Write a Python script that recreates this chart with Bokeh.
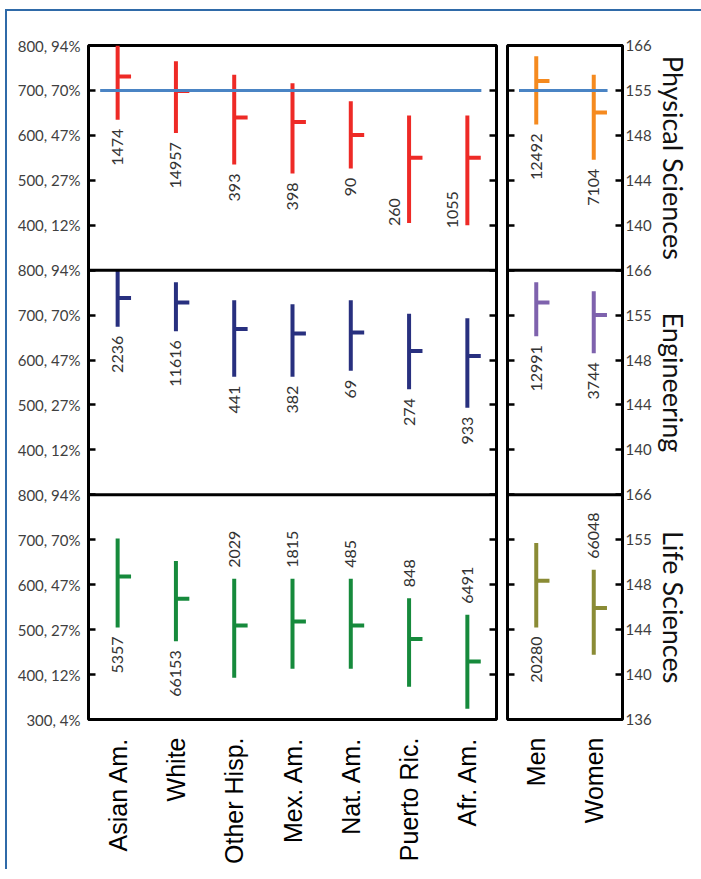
import numpy as np
from bokeh.plotting import figure
from bokeh.models import ColumnDataSource, Range1d, FactorRange, FixedTicker, LinearAxis, Span
from bokeh.transform import dodge
from bokeh.layouts import row
from bokeh.embed import file_html
from bokeh.resources import INLINE
from bokeh.core.properties import value

# ---------------- data ----------------
groups = ["Asian Am.", "White", "Other Hisp.", "Mex. Am.", "Nat. Am.", "Puerto Ric.", "Afr. Am."]
genders = ["Men", "Women"]
fields = ["Physical Sciences", "Engineering", "Life Sciences"]

phys_low = [635, 605, 535, 515, 526, 405, 400]
phys_high = [800, 765, 735, 716, 676, 644, 644]
phys_mean = [731, 699, 640, 630, 601, 550, 550]
phys_n = [1474, 14957, 393, 398, 90, 260, 1055]
phys_g_low = [624, 546]
phys_g_high = [776, 735]
phys_g_mean = [721, 651]
phys_g_n = [12492, 7104]

eng_low = [674, 664, 563, 563, 576, 535, 494]
eng_high = [800, 773, 733, 724, 733, 703, 693]
eng_mean = [738, 728, 669, 659, 661, 620, 609]
eng_n = [2236, 11616, 441, 382, 69, 274, 933]
eng_g_low = [653, 615]
eng_g_high = [773, 753]
eng_g_mean = [728, 700]
eng_g_n = [12991, 3744]

life_low = [505, 474, 393, 413, 413, 373, 324]
life_high = [703, 653, 613, 613, 613, 570, 533]
life_mean = [618, 569, 509, 518, 509, 479, 429]
life_n = [5357, 66153, 2029, 1815, 485, 848, 6491]
life_g_low = [505, 444]
life_g_high = [693, 633]
life_g_mean = [609, 548]
life_g_n = [20280, 66048]

score_ticks = [300, 400, 500, 600, 700, 800]
score_labels = ["300, 4%", "400, 12%", "500, 27%", "600, 47%", "700, 70%", "800, 94%"]
new_scale_labels = ["136", "140", "144", "148", "155", "166"]
reference_score = 700

# label placement relative to the bar
phys_side = ["below", "below", "below", "below", "below", "left", "left"]
phys_g_side = ["below", "below"]
eng_side = ["below"] * 7
eng_g_side = ["below", "below"]
life_side = ["below", "below", "above", "above", "above", "above", "above"]
life_g_side = ["below", "above"]

# ---------------- styling ----------------
left_colors = ["#ee2a26", "#28307f", "#168a3c"]
right_colors = ["#f58a1f", "#7e62ad", "#8a8b35"]
ref_color = "#4a84c4"
SANS = "Lato"
AX_FONT = "Liberation Sans"
MBT, MBB, FH = 34, 150, 674

SPAN = 500                          # height of one row on the score scale
row_offsets = [2 * SPAN, SPAN, 0]   # top, middle, bottom
YMIN, YMAX = 300, 300 + 3 * SPAN


def stacked_ticks(labels):
    ticks, over = [], {}
    for r, off in enumerate(row_offsets):
        for t, lab in zip(score_ticks, labels):
            if r < 2 and t == score_ticks[0]:
                continue
            ticks.append(t + off)
            over[t + off] = lab
    return sorted(set(ticks)), over


def add_row_ranges(p):
    for r, off in enumerate(row_offsets):
        p.extra_y_ranges[f"r{r}"] = Range1d(YMIN - off, YMAX - off)


def base_fig(cats, fw, mbl, mbr):
    p = figure(x_range=FactorRange(*cats), y_range=Range1d(YMIN, YMAX),
               frame_width=fw, frame_height=FH, output_backend="svg",
               toolbar_location=None, min_border_left=mbl, min_border_right=mbr,
               min_border_top=MBT, min_border_bottom=MBB,
               background_fill_color="white", border_fill_color="white")
    p.xgrid.grid_line_color = None
    p.ygrid.grid_line_color = None
    p.outline_line_color = "black"
    p.outline_line_width = 3
    add_row_ranges(p)
    for loc in (300 + SPAN, 300 + 2 * SPAN):
        p.add_layout(Span(location=loc, dimension="width", line_color="black", line_width=3))
    xa = p.xaxis[0]
    xa.axis_line_color = None
    xa.major_tick_line_color = None
    xa.minor_tick_line_color = None
    xa.major_label_orientation = np.pi / 2
    xa.major_label_text_font = AX_FONT
    xa.major_label_text_font_size = "25px"
    xa.major_label_text_color = "black"
    xa.major_label_standoff = 12
    return p


def style_yaxis(ax, ticks, over, show_labels, standoff):
    ax.ticker = FixedTicker(ticks=ticks)
    ax.axis_line_color = None
    ax.major_tick_in = 7
    ax.major_tick_out = 0
    ax.major_tick_line_width = 2.5
    ax.major_tick_line_color = "black"
    ax.minor_tick_line_color = None
    ax.major_label_standoff = standoff
    if show_labels:
        ax.major_label_overrides = over
        ax.major_label_text_font = SANS
        ax.major_label_text_font_size = "15px"
        ax.major_label_text_color = "#404040"
    else:
        ax.major_label_overrides = {t: "" for t in ticks}
        ax.major_label_text_font_size = "1px"
        ax.major_label_text_alpha = 0


LABEL_STYLE = {
    "below": dict(anchor="low", text_align="right", x_offset=0, y_offset=9),
    "above": dict(anchor="high", text_align="left", x_offset=0, y_offset=-11),
    "left": dict(anchor="low", text_align="left", x_offset=-15, y_offset=3),
}


def draw_panel(p, cats, low, high, mean, n, sides, color, rname):
    src = ColumnDataSource(dict(cat=cats, low=low, high=high, mean=mean))
    p.segment(x0="cat", y0="low", x1="cat", y1="high", source=src,
              line_color=color, line_width=4, y_range_name=rname)
    p.segment(x0="cat", y0="mean", x1=dodge("cat", 0.23, range=p.x_range), y1="mean",
              source=src, line_color=color, line_width=4, y_range_name=rname)
    for side, st in LABEL_STYLE.items():
        idx = [i for i, s in enumerate(sides) if s == side]
        if not idx:
            continue
        ys = low if st["anchor"] == "low" else high
        s2 = ColumnDataSource(dict(cat=[cats[i] for i in idx],
                                   y=[ys[i] for i in idx],
                                   t=[str(n[i]) for i in idx]))
        p.text(x="cat", y="y", text="t", source=s2, angle=np.pi / 2,
               text_align=st["text_align"], text_baseline="middle",
               x_offset=st["x_offset"], y_offset=st["y_offset"],
               text_font=value(SANS), text_font_size="16px", text_color="#333333",
               y_range_name=rname)


def draw_reference(p, cats):
    s = ColumnDataSource(dict(a=[cats[0]], b=[cats[-1]], y=[reference_score]))
    p.segment(x0=dodge("a", -0.3, range=p.x_range), y0="y",
              x1=dodge("b", 0.24, range=p.x_range), y1="y", source=s,
              line_color=ref_color, line_width=3, y_range_name="r0")


# ---------------- left figure ----------------
pl = base_fig(groups, 408, 81, 5)
ticks_l, over_l = stacked_ticks(score_labels)
style_yaxis(pl.yaxis[0], ticks_l, over_l, True, 8)
ra = LinearAxis()
pl.add_layout(ra, "right")
style_yaxis(ra, ticks_l, over_l, False, 0)

left_sets = [(phys_low, phys_high, phys_mean, phys_n, phys_side),
             (eng_low, eng_high, eng_mean, eng_n, eng_side),
             (life_low, life_high, life_mean, life_n, life_side)]
for r, (lo, hi, me, nn, sd) in enumerate(left_sets):
    draw_panel(pl, groups, lo, hi, me, nn, sd, left_colors[r], f"r{r}")
draw_reference(pl, groups)

# ---------------- right figure ----------------
pr = base_fig(genders, 115, 6, 30)
ticks_r, over_r = stacked_ticks(new_scale_labels)
style_yaxis(pr.yaxis[0], ticks_r, over_r, False, 0)
ra2 = LinearAxis()
pr.add_layout(ra2, "right")
style_yaxis(ra2, ticks_r, over_r, True, 3)

right_sets = [(phys_g_low, phys_g_high, phys_g_mean, phys_g_n, phys_g_side),
              (eng_g_low, eng_g_high, eng_g_mean, eng_g_n, eng_g_side),
              (life_g_low, life_g_high, life_g_mean, life_g_n, life_g_side)]
for r, (lo, hi, me, nn, sd) in enumerate(right_sets):
    draw_panel(pr, genders, lo, hi, me, nn, sd, right_colors[r], f"r{r}")
draw_reference(pr, genders)

# ---------------- row titles ----------------
pt = figure(x_range=Range1d(0, 1), y_range=Range1d(YMIN, YMAX),
            frame_width=42, frame_height=FH, output_backend="svg",
            toolbar_location=None, min_border_left=0, min_border_right=0,
            min_border_top=MBT, min_border_bottom=MBB,
            x_axis_location=None, y_axis_location=None,
            background_fill_color="white", border_fill_color="white")
pt.outline_line_color = None
pt.xgrid.grid_line_color = None
pt.ygrid.grid_line_color = None
add_row_ranges(pt)
mid = (score_ticks[0] + score_ticks[-1]) / 2
for r, name in enumerate(fields):
    pt.text(x=[0.46], y=[mid], text=[name], angle=-np.pi / 2, y_range_name=f"r{r}",
            text_align="center", text_baseline="middle",
            text_font=value(SANS), text_font_size="27px", text_color="#111111")

root = row(pl, pr, pt, styles={"border-top": "2px solid #2f6aa8",
                               "border-left": "2px solid #2f6aa8",
                               "margin-left": "5px", "margin-top": "9px",
                               "padding-right": "5px"})
open("out.html", "w").write(file_html(root, INLINE))
